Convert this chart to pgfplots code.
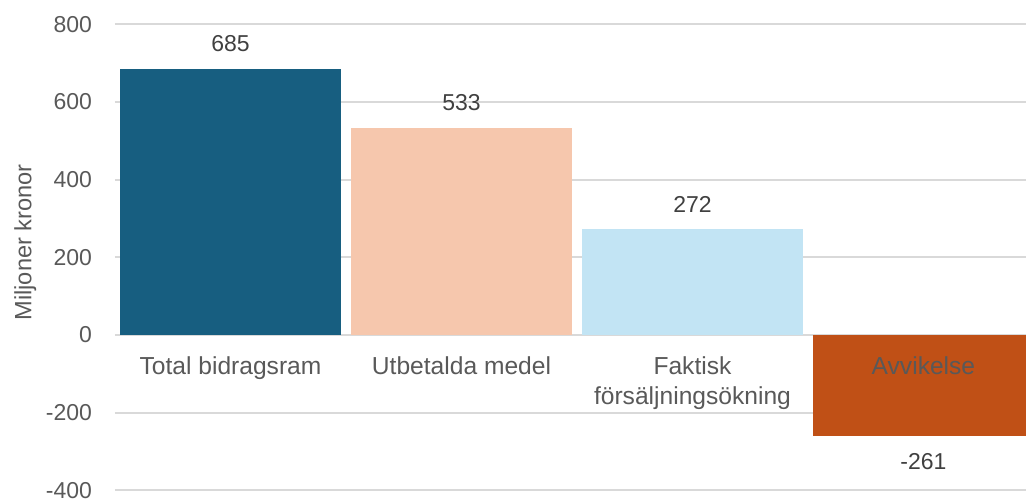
\documentclass[border=0pt]{standalone}
\usepackage{pgfplots}
\pgfplotsset{compat=1.18}
\usepackage{fontspec}
\setmainfont{Liberation Sans}
\definecolor{cBlue}{HTML}{175E80}
\definecolor{cPeach}{HTML}{F6C7AD}
\definecolor{cLight}{HTML}{C2E4F4}
\definecolor{cOrange}{HTML}{C05016}
\definecolor{cGrid}{HTML}{D9D9D9}
\definecolor{cTick}{HTML}{595959}
\definecolor{cLab}{HTML}{404040}
\begin{document}
\begin{tikzpicture}
\path[use as bounding box] (-57.5pt,-3.8pt) rectangle (455.5pt,245.2pt);
\begin{axis}[
  at={(0,0)}, anchor=south west,
  scale only axis, width=455.5pt, height=233pt,
  xmin=-0.5, xmax=3.444, ymin=-400, ymax=800,
  ytick={-400,-200,0,200,400,600,800},
  xtick=\empty,
  axis line style={draw=none},
  major tick length=0pt,
  ymajorgrids, grid style={cGrid, line width=1pt},
  ylabel={Miljoner kronor},
  ylabel style={font=\fontsize{11.8}{14}\selectfont, text=cTick, yshift=-2pt, xshift=7.5pt},
  yticklabel style={font=\fontsize{11.5}{13}\selectfont, text=cTick, xshift=-8pt},
  /pgf/number format/assume math mode=true,
  ybar, bar width=0.957, bar shift=0pt,
  nodes near coords,
  every node near coord/.append style={font=\fontsize{11.5}{13}\selectfont, text=cLab},
  clip=true,
]
\addplot[fill=cBlue, draw=none, every node near coord/.append style={yshift=5pt}] coordinates {(0,685)};
\addplot[fill=cPeach, draw=none, every node near coord/.append style={yshift=5pt}] coordinates {(1,533)};
\addplot[fill=cLight, draw=none, every node near coord/.append style={yshift=5pt}] coordinates {(2,272)};
\addplot[fill=cOrange, draw=none, every node near coord/.append style={yshift=-5pt}] coordinates {(3,-261)};
\begin{scope}[every node/.style={font=\fontsize{12.3}{15}\selectfont, text=cTick, align=center, anchor=north, inner sep=0pt}]
\node at ([yshift=-10.5pt]axis cs:0,0) {Total bidragsram};
\node at ([yshift=-10.5pt]axis cs:1,0) {Utbetalda medel};
\node at ([yshift=-10.5pt]axis cs:2,0) {Faktisk\\försäljningsökning};
\node at ([yshift=-10.5pt]axis cs:3,0) {Avvikelse};
\end{scope}
\end{axis}
\end{tikzpicture}
\end{document}
